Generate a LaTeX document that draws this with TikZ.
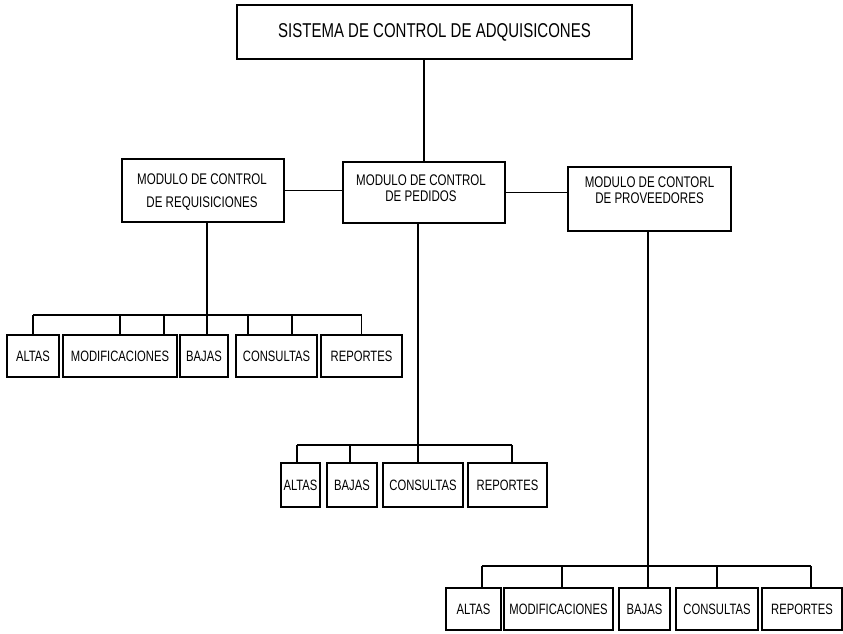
\documentclass[tikz,border=0pt]{standalone}
\usepackage{fontspec}
\setmainfont{Liberation Sans}[FakeStretch=0.75]
\usetikzlibrary{positioning}

\begin{document}
\begin{tikzpicture}[
    x=1pt, y=-1pt,
    box/.style={rectangle, draw, line width=1.3pt, inner sep=1pt, align=center},
    modbox/.style={box, minimum width=162pt, minimum height=62pt},
    modtext/.style={inner sep=0pt, align=center},
    leaf/.style={box, minimum height=42pt, font=\fontsize{15}{17}\selectfont},
    link/.style={line width=1.2pt}
  ]
    \useasboundingbox (0,0) rectangle (843,633);

    % main box
    \node[box, minimum width=395pt, minimum height=54pt, font=\fontsize{20}{24}\selectfont] (sys) at (434.5,32) {SISTEMA DE CONTROL DE ADQUISICONES};

    % modules
    \node[modbox, minimum height=63pt] (req) at (203,190.5) {};
    \node[modtext, font=\fontsize{15.4}{23}\selectfont] (reqtxt) at (202,192.5) {MODULO DE CONTROL\\DE REQUISICIONES};
    \node[modbox, minimum height=61pt] (ped) at (424,192.5) {};
    \node[modtext, font=\fontsize{15.4}{15.5}\selectfont] (pedtxt) at (421,188) {MODULO DE CONTROL\\DE PEDIDOS};
    \node[modbox, minimum width=163pt, minimum height=64pt] (prov) at (649.5,199) {};
    \node[modtext, font=\fontsize{15.4}{15.5}\selectfont] (provtxt) at (649.5,190) {MODULO DE CONTORL\\DE PROVEEDORES};

    \draw[link] (ped.north) -- (ped.north |- sys.south);
    \draw[link] (req.east) -- (req.east -| ped.west);
    \draw[link] (ped.east) -- (ped.east -| prov.west);

    % requisiciones
    \node[leaf, minimum width=52pt] (altasR) at (33,356) {ALTAS};
    \node[leaf, minimum width=114pt] (modR) at (120,356) {MODIFICACIONES};
    \node[leaf, minimum width=48pt] (bajasR) at (204,356) {BAJAS};
    \node[leaf, minimum width=81pt] (consR) at (276.5,356) {CONSULTAS};
    \node[leaf, minimum width=81pt] (repR) at (361.5,356) {REPORTES};
    \coordinate (busR) at (207,315);

    \draw[link] ([xshift=4pt]req.south) -- ([xshift=4pt]req.south |- bajasR.north);
    \draw[link] (altasR.north |- busR) -- (repR.north |- busR);
    \draw[link] (altasR.north) -- (altasR.north |- busR);
    \draw[link] (modR.north) -- (modR.north |- busR);
    \draw[link] ([xshift=44pt]modR.north) -- ([xshift=44pt]modR.north |- busR);
    \draw[link] ([xshift=-28.5pt]consR.north) -- ([xshift=-28.5pt]consR.north |- busR);
    \draw[link] ([xshift=15.5pt]consR.north) -- ([xshift=15.5pt]consR.north |- busR);
    \draw[link] (repR.north) -- (repR.north |- busR);

    % pedidos
    \node[leaf, minimum width=39pt, minimum height=44pt] (altasP) at (300.5,485) {ALTAS};
    \node[leaf, minimum width=50pt, minimum height=44pt] (bajasP) at (352,485) {BAJAS};
    \node[leaf, minimum width=80pt, minimum height=44pt] (consP) at (423,485) {CONSULTAS};
    \node[leaf, minimum width=79pt, minimum height=44pt] (repP) at (507.5,485) {REPORTES};
    \coordinate (busP) at (418,445);

    \draw[link] (ped.south -| busP) -- (consP.north -| busP);
    \draw[link] ([xshift=-3.5pt]altasP.north |- busP) -- ([xshift=4.5pt]repP.north |- busP);
    \draw[link] ([xshift=-3.5pt]altasP.north) -- ([xshift=-3.5pt]altasP.north |- busP);
    \draw[link] ([xshift=-2pt]bajasP.north) -- ([xshift=-2pt]bajasP.north |- busP);
    \draw[link] ([xshift=4.5pt]repP.north) -- ([xshift=4.5pt]repP.north |- busP);

    % proveedores
    \node[leaf, minimum width=55pt] (altasV) at (473.5,609) {ALTAS};
    \node[leaf, minimum width=109pt] (modV) at (558.5,609) {MODIFICACIONES};
    \node[leaf, minimum width=51pt] (bajasV) at (644.5,609) {BAJAS};
    \node[leaf, minimum width=82pt] (consV) at (717,609) {CONSULTAS};
    \node[leaf, minimum width=80pt] (repV) at (802,609) {REPORTES};
    \coordinate (busV) at (648,566);

    \draw[link] (prov.south -| busV) -- (bajasV.north -| busV);
    \draw[link] ([xshift=8.5pt]altasV.north |- busV) -- ([xshift=9pt]repV.north |- busV);
    \draw[link] ([xshift=8.5pt]altasV.north) -- ([xshift=8.5pt]altasV.north |- busV);
    \draw[link] ([xshift=3.5pt]modV.north) -- ([xshift=3.5pt]modV.north |- busV);
    \draw[link] (consV.north) -- (consV.north |- busV);
    \draw[link] ([xshift=9pt]repV.north) -- ([xshift=9pt]repV.north |- busV);

\end{tikzpicture}
\end{document}
